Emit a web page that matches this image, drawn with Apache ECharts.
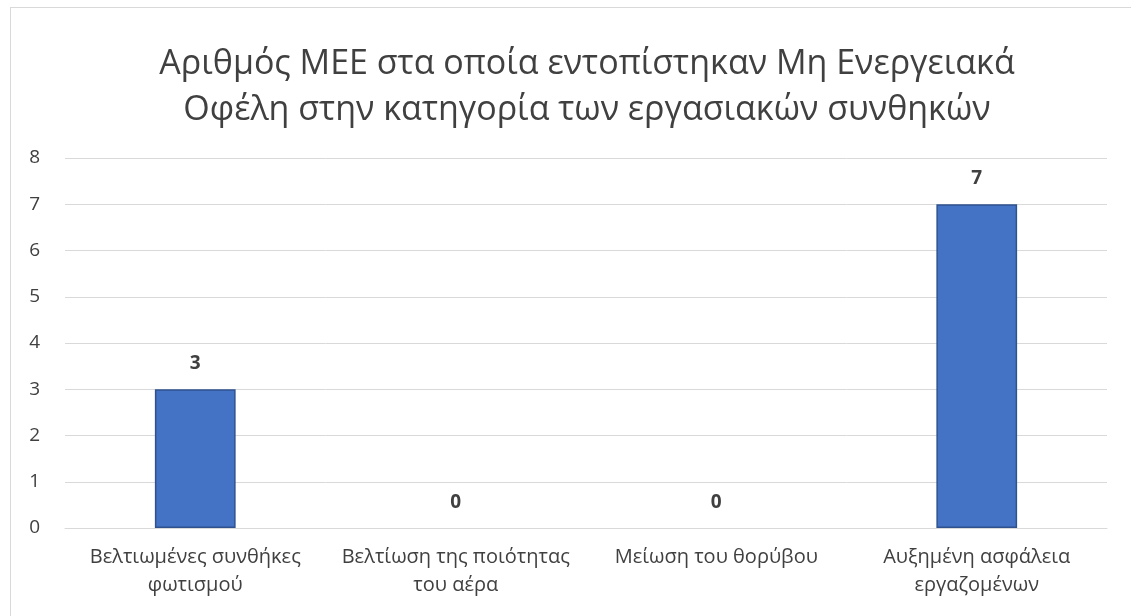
<!DOCTYPE html>
<html>
<head>
<meta charset="utf-8">
<script src="https://cdn.jsdelivr.net/npm/echarts@6/dist/echarts.min.js"></script>
<style>
  html, body { margin: 0; padding: 0; background: #fff; }
  #frame { position: absolute; left: 10px; top: 7px; width: 1140px; height: 640px; border: 1.5px solid #d9d9d9; }
  #board { position: absolute; left: 0; top: 0; width: 1131px; height: 616px; }
</style>
</head>
<body>
<div id="frame"></div>
<div id="board"></div>
<script>
// κατηγορίες και τιμές
var categories = [
  "Βελτιωμένες συνθήκες\nφωτισμού",
  "Βελτίωση της ποιότητας\nτου αέρα",
  "Μείωση του θορύβου",
  "Αυξημένη ασφάλεια\nεργαζομένων"
];
var counts = [3, 0, 0, 7];
var yTicks = [0, 1, 2, 3, 4, 5, 6, 7, 8];

var titleText = "Αριθμός ΜΕΕ στα οποία εντοπίστηκαν Μη Ενεργειακά\nΟφέλη στην κατηγορία των εργασιακών συνθηκών";

// οι μηδενικές μπάρες δεν έχουν περίγραμμα
var barData = counts.map(function (v) {
  return v === 0 ? { value: v, itemStyle: { borderWidth: 0 } } : v;
});

var myChart = echarts.init(document.getElementById("board"));
var option = {
  backgroundColor: "transparent",
  textStyle: { fontFamily: "Open Sans" },
  title: {
    text: titleText,
    left: 582,
    textAlign: "center",
    top: 36,
    textStyle: {
      fontFamily: "Open Sans",
      fontSize: 34,
      fontWeight: "normal",
      color: "#404040",
      lineHeight: 46
    }
  },
  grid: { left: 65, right: 24, top: 158, bottom: 88 },
  xAxis: {
    type: "category",
    data: categories,
    axisLine: { lineStyle: { color: "#d9d9d9", width: 1 } },
    axisTick: { show: false },
    axisLabel: {
      color: "#404040",
      fontSize: 20,
      lineHeight: 28,
      margin: 15,
      interval: 0
    }
  },
  yAxis: {
    type: "value",
    min: yTicks[0],
    max: yTicks[yTicks.length - 1],
    interval: 1,
    axisLine: { show: false },
    axisTick: { show: false },
    axisLabel: { color: "#404040", fontSize: 19, margin: 25 },
    splitLine: { lineStyle: { color: "#d9d9d9", width: 1 } }
  },
  series: [
    {
      type: "bar",
      data: barData,
      barWidth: "31%",
      itemStyle: { color: "#4472c4", borderColor: "#2f528f", borderWidth: 1.5 },
      label: {
        show: true,
        position: "top",
        distance: 16,
        color: "#404040",
        fontSize: 19,
        fontWeight: "bold"
      }
    }
  ]
};
myChart.setOption(option);
</script>
</body>
</html>
